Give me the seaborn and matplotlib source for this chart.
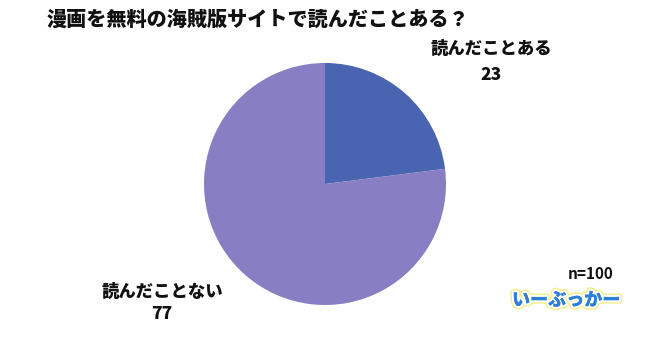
import matplotlib
matplotlib.use("Agg")
import matplotlib.pyplot as plt
import matplotlib.patheffects as pe
import seaborn as sns

title = "漫画を無料の海賊版サイトで読んだことある？"
categories = ["読んだことある", "読んだことない"]
values = [23, 77]
colors = ["#4964B0", "#877EC4"]
sample_note = "n=100"
logo_text = "いーぶっかー"

sns.set_theme(style="white")
plt.rcParams['font.family'] = ['Noto Sans CJK JP', 'DejaVu Sans']

W, H = 650, 342
fig = plt.figure(figsize=(W / 100, H / 100), dpi=100)
fig.patch.set_facecolor("white")

cx, cy, r = 325, 184, 121
ax = fig.add_axes([(cx - r) / W, (H - cy - r) / H, 2 * r / W, 2 * r / H])
ax.pie(values, colors=colors, startangle=90, counterclock=False,
       wedgeprops=dict(linewidth=0))
ax.set_xlim(-1, 1)
ax.set_ylim(-1, 1)
ax.set_aspect("equal")
ax.axis("off")

def px(x, y):
    return x / W, 1 - y / H

fig.text(*px(258, 20), title, ha="center", va="center", fontsize=14.5,
         fontweight=900, color="#111111")

label_pos = [(491, 49, 75), (162, 292, 314)]
for cat, val, (x, y1, y2) in zip(categories, values, label_pos):
    fig.text(*px(x, y1), cat, ha="center", va="center", fontsize=12.5,
             fontweight=900, color="#111111")
    fig.text(*px(x, y2), str(val), ha="center", va="center", fontsize=12.5,
             fontweight=900, color="#111111")

fig.text(*px(591, 274), sample_note, ha="center", va="center", fontsize=11,
         fontweight="bold", color="#111111")
fig.text(*px(566, 300), logo_text, ha="center", va="center", fontsize=13,
         fontweight=900, color="#2E7FD6",
         path_effects=[pe.withStroke(linewidth=5, foreground="#F2EE8A"),
                       pe.withStroke(linewidth=3, foreground="white"),
                       pe.Normal()])

fig.savefig("out.png", dpi=100, facecolor="white")
